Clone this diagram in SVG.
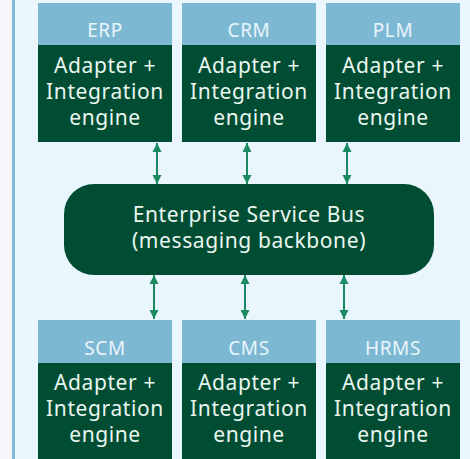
<svg xmlns="http://www.w3.org/2000/svg" width="470" height="459" viewBox="0 0 470 459">
<style>
.hd{fill:#7db8d3}
.bd{fill:#004d33}
.ht{font-family:"Noto Sans","Open Sans",sans-serif;font-size:19px;letter-spacing:0.6px;fill:#e8f5fb;text-anchor:middle}
.bt{font-family:"Noto Sans","Open Sans",sans-serif;font-size:21px;letter-spacing:0.6px;fill:#eaf6ef;text-anchor:middle}
.cn{stroke:#1b8a62;stroke-width:2;fill:none;marker-start:url(#ah);marker-end:url(#ah)}
</style>
<defs>
<marker id="ah" viewBox="0 0 10 10" refX="10" refY="5" markerWidth="4.5" markerHeight="5.5" orient="auto-start-reverse" markerUnits="strokeWidth">
<path d="M0,0 L10,5 L0,10 Z" fill="#1b8a62"/>
</marker>
</defs>
<rect x="0" y="0" width="470" height="459" fill="#eaf6fd"/>
<rect x="0" y="0" width="12" height="459" fill="#f4f6fa"/>
<rect x="12" y="0" width="3" height="459" fill="#80b9d3"/>
<g id="erp"><rect class="hd" x="38" y="3" width="134" height="42"/><rect class="bd" x="38" y="45" width="134" height="97"/><text class="ht" x="105" y="37">ERP</text><text class="bt" x="105" y="73">Adapter +</text><text class="bt" x="105" y="99">Integration</text><text class="bt" x="105" y="125">engine</text></g>
<g id="crm"><rect class="hd" x="182" y="3" width="134" height="42"/><rect class="bd" x="182" y="45" width="134" height="97"/><text class="ht" x="249" y="37">CRM</text><text class="bt" x="249" y="73">Adapter +</text><text class="bt" x="249" y="99">Integration</text><text class="bt" x="249" y="125">engine</text></g>
<g id="plm"><rect class="hd" x="326" y="3" width="134" height="42"/><rect class="bd" x="326" y="45" width="134" height="97"/><text class="ht" x="393" y="37">PLM</text><text class="bt" x="393" y="73">Adapter +</text><text class="bt" x="393" y="99">Integration</text><text class="bt" x="393" y="125">engine</text></g>
<g id="esb"><rect class="bd" x="64" y="184" width="370" height="91" rx="30"/><text class="bt" x="249" y="222">Enterprise Service Bus</text><text class="bt" x="249" y="248">(messaging backbone)</text></g>
<g id="scm"><rect class="hd" x="38" y="320" width="134" height="43"/><rect class="bd" x="38" y="363" width="134" height="96"/><text class="ht" x="105" y="355">SCM</text><text class="bt" x="105" y="390">Adapter +</text><text class="bt" x="105" y="416">Integration</text><text class="bt" x="105" y="442">engine</text></g>
<g id="cms"><rect class="hd" x="182" y="320" width="134" height="43"/><rect class="bd" x="182" y="363" width="134" height="96"/><text class="ht" x="249" y="355">CMS</text><text class="bt" x="249" y="390">Adapter +</text><text class="bt" x="249" y="416">Integration</text><text class="bt" x="249" y="442">engine</text></g>
<g id="hrms"><rect class="hd" x="326" y="320" width="134" height="43"/><rect class="bd" x="326" y="363" width="134" height="96"/><text class="ht" x="393" y="355">HRMS</text><text class="bt" x="393" y="390">Adapter +</text><text class="bt" x="393" y="416">Integration</text><text class="bt" x="393" y="442">engine</text></g>
<g id="connectors">
<line class="cn" x1="157" y1="143" x2="157" y2="184"/>
<line class="cn" x1="247" y1="143" x2="247" y2="184"/>
<line class="cn" x1="347" y1="143" x2="347" y2="184"/>
<line class="cn" x1="154" y1="275" x2="154" y2="319"/>
<line class="cn" x1="245" y1="275" x2="245" y2="319"/>
<line class="cn" x1="344" y1="275" x2="344" y2="319"/>
</g>
</svg>
